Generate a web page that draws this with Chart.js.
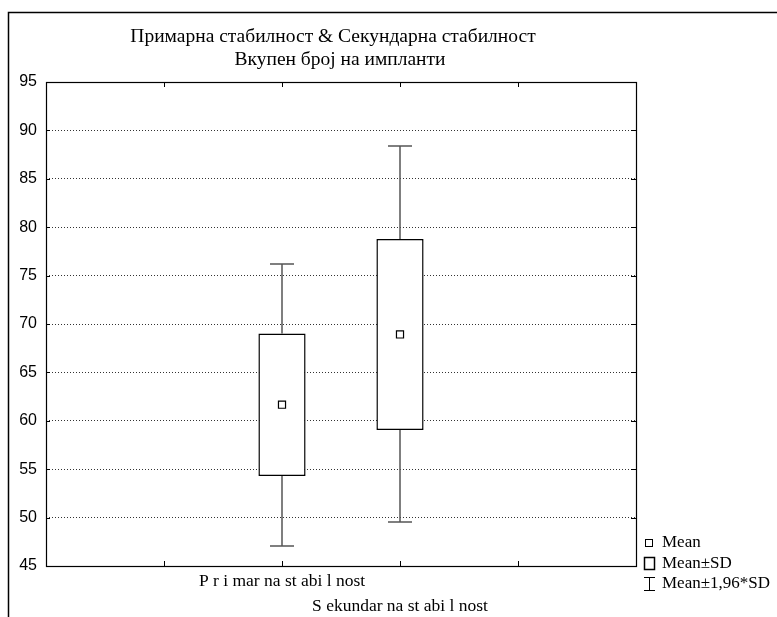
<!DOCTYPE html>
<html>
<head>
<meta charset="utf-8">
<script src="https://cdn.jsdelivr.net/npm/chart.js@4"></script>
<style>
  html, body { margin: 0; padding: 0; background: #fff; }
  #wrap { width: 777px; height: 617px; position: relative; }
</style>
</head>
<body>
<div id="wrap"><canvas id="c" width="777" height="617"></canvas></div>
<script>
// ---- data ----
const titleLines = ['Примарна стабилност & Секундарна стабилност', 'Вкупен број на импланти'];
const groups = ['P r i mar na st abi l nost', 'S ekundar na st abi l nost'];
const slots = [2, 3];                 // slot of each group on the 0..5 category axis
const means = [61.66, 68.92];
const sdLow = [54.30, 59.05];
const sdHigh = [69.02, 78.78];
const ciLow = [47.1, 49.5];
const ciHigh = [76.2, 88.4];
const legendLabels = ['Mean', 'Mean±SD', 'Mean±1,96*SD'];
const yMin = 45, yMax = 95, yStep = 5;
const xMin = 0, xMax = 5;

const SERIF = '"Liberation Serif", "Times New Roman", serif';
const SANS = '"Liberation Sans", Arial, sans-serif';

// whiskers, frame, inner ticks, title and legend
const decor = {
  id: 'decor',
  beforeDatasetsDraw(chart) {
    const { ctx, scales: { x, y } } = chart;
    ctx.save();
    ctx.strokeStyle = '#555';
    ctx.lineWidth = 1.5;
    const cap = 12;
    slots.forEach((s, i) => {
      const px = Math.round(x.getPixelForValue(s));
      [[sdHigh[i], ciHigh[i]], [sdLow[i], ciLow[i]]].forEach(([a, b]) => {
        const ya = y.getPixelForValue(a);
        const yb = Math.round(y.getPixelForValue(b));
        ctx.beginPath();
        ctx.moveTo(px, ya);
        ctx.lineTo(px, yb);
        ctx.moveTo(px - cap, yb);
        ctx.lineTo(px + cap, yb);
        ctx.stroke();
      });
    });
    ctx.restore();
  },
  afterDraw(chart) {
    const { ctx, chartArea: a, scales: { x, y } } = chart;
    ctx.save();
    // outer frame (open to the right and bottom)
    ctx.strokeStyle = '#000';
    ctx.lineWidth = 1.5;
    ctx.beginPath();
    ctx.moveTo(8.5, 617);
    ctx.lineTo(8.5, 12.5);
    ctx.lineTo(777, 12.5);
    ctx.stroke();

    // plot frame
    ctx.lineWidth = 1.2;
    ctx.strokeRect(Math.round(a.left) + 0.5, Math.round(a.top) + 0.5,
                   Math.round(a.right - a.left), Math.round(a.bottom - a.top));

    // inward tick marks
    ctx.lineWidth = 1;
    ctx.beginPath();
    for (let v = xMin + 1; v < xMax; v++) {
      const px = Math.round(x.getPixelForValue(v)) + 0.5;
      ctx.moveTo(px, a.top); ctx.lineTo(px, a.top + 5);
      ctx.moveTo(px, a.bottom); ctx.lineTo(px, a.bottom - 5);
    }
    for (let v = yMin + yStep; v < yMax; v += yStep) {
      const py = Math.round(y.getPixelForValue(v)) + 0.5;
      ctx.moveTo(a.left, py); ctx.lineTo(a.left + 4, py);
      ctx.moveTo(a.right, py); ctx.lineTo(a.right - 5, py);
    }
    ctx.stroke();

    // title
    ctx.fillStyle = '#000';
    ctx.textAlign = 'center';
    ctx.textBaseline = 'middle';
    ctx.font = '19.5px ' + SERIF;
    ctx.fillText(titleLines[0], 333, 37);
    ctx.fillText(titleLines[1], 340, 60);

    // legend
    ctx.textAlign = 'left';
    ctx.font = '17px ' + SERIF;
    const lx = 662;
    // mean marker
    ctx.lineWidth = 1;
    ctx.strokeRect(645.5, 539.5, 7, 7);
    ctx.fillText(legendLabels[0], lx, 543);
    // box
    ctx.lineWidth = 1.5;
    ctx.strokeRect(644.5, 557.5, 10, 12);
    ctx.fillText(legendLabels[1], lx, 564);
    // whisker
    ctx.lineWidth = 1;
    ctx.beginPath();
    ctx.moveTo(649.5, 577); ctx.lineTo(649.5, 591);
    ctx.moveTo(644, 577.5); ctx.lineTo(655, 577.5);
    ctx.moveTo(644, 590.5); ctx.lineTo(655, 590.5);
    ctx.stroke();
    ctx.fillText(legendLabels[2], lx, 584);
    ctx.restore();
  }
};

new Chart(document.getElementById('c'), {
  type: 'bar',
  data: {
    datasets: [
      {
        type: 'scatter',
        order: 0,
        data: slots.map((s, i) => ({ x: s, y: means[i] })),
        pointStyle: 'rect',
        pointRadius: 5,
        pointHoverRadius: 5,
        backgroundColor: '#fff',
        borderColor: '#000',
        borderWidth: 1.2
      },
      {
        type: 'bar',
        order: 1,
        data: slots.map((s, i) => ({ x: s, y: [sdLow[i], sdHigh[i]] })),
        backgroundColor: '#fff',
        borderColor: '#000',
        borderWidth: 1.5,
        borderSkipped: false,
        barPercentage: 0.4,
        categoryPercentage: 1
      }
    ]
  },
  options: {
    responsive: false,
    animation: false,
    devicePixelRatio: 1,
    layout: { padding: { top: 82, right: 141, left: 0, bottom: 0 } },
    plugins: {
      legend: { display: false },
      title: { display: false },
      tooltip: { enabled: false }
    },
    scales: {
      x: {
        type: 'linear',
        min: xMin,
        max: xMax,
        offset: false,
        grid: { display: false },
        border: { display: false },
        ticks: {
          stepSize: 1,
          autoSkip: false,
          maxRotation: 0,
          padding: -5,
          color: '#000',
          font: { family: SERIF, size: 17.5, lineHeight: 1.42 },
          callback: (v) => {
            const i = slots.indexOf(v);
            if (i < 0) return '';
            return i % 2 ? ['', groups[i]] : groups[i];
          }
        },
        afterFit: (s) => { s.height = 51; }
      },
      y: {
        min: yMin,
        max: yMax,
        grid: { color: '#333', lineWidth: 1, drawTicks: false },
        border: { display: false, dash: [1, 2] },
        ticks: {
          stepSize: yStep,
          padding: 9,
          color: '#000',
          font: { family: SANS, size: 16 }
        },
        afterFit: (s) => { s.width = 46; }
      }
    }
  },
  plugins: [decor]
});
</script>
</body>
</html>
